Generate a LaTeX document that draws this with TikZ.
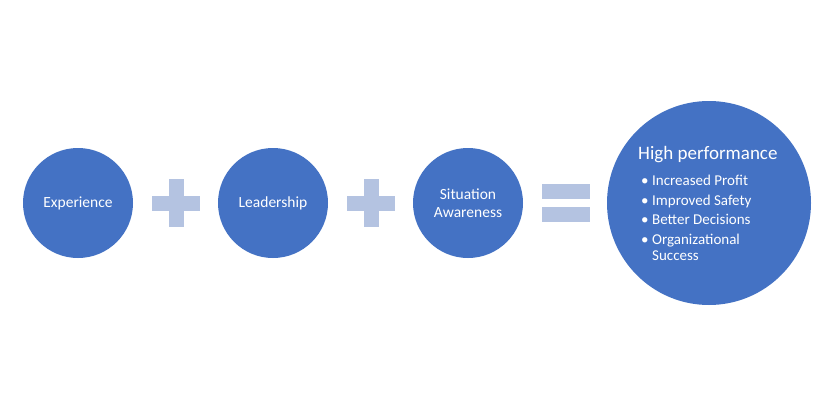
\documentclass[tikz,border=0pt]{standalone}
\usepackage{fontspec}
\setmainfont{Carlito}
\definecolor{circblue}{HTML}{4472C4}
\definecolor{oplight}{HTML}{B4C3E1}
\begin{document}
\begin{tikzpicture}[x=1pt,y=-1pt,
  bubble/.style={circle,fill=circblue,inner sep=0pt,minimum size=110pt,text=white,font=\fontsize{15.5}{17.5}\selectfont,align=center},
  bigbubble/.style={circle,fill=circblue,inner sep=0pt,minimum size=204pt},
  opbar/.style={fill=oplight}]
\useasboundingbox (0,0) rectangle (814,407);
\fill[white] (0,0) rectangle (814,407);
\node[bubble] (exp) at (78,203) {Experience};
\node[bubble] (lead) at (273,203) {Leadership};
\node[bubble] (sa) at (468,203) {Situation\\Awareness};
\node[bigbubble] (hp) at (709,203) {};
% plus signs
\fill[opbar] (152,196) rectangle (200,211);
\fill[opbar] (168.5,179) rectangle (183.5,227);
\fill[opbar] (347,196) rectangle (395,211);
\fill[opbar] (363.5,179) rectangle (378.5,227);
% equals
\fill[opbar] (542,184) rectangle (590,199);
\fill[opbar] (542,207) rectangle (590,222);
% text in big circle
\node[anchor=west,inner sep=0pt,text=white,font=\fontsize{19}{21}\selectfont] (title) at (638,155) {High performance};
\node[anchor=west,inner sep=0pt,text=white,font=\fontsize{15}{16.5}\selectfont] (list) at (641,220)
 {\begin{tabular}{@{}l@{\hspace{3.5pt}}l@{}}
 \textbullet & Increased Profit\\[3pt]
 \textbullet & Improved Safety\\[3pt]
 \textbullet & Better Decisions\\[3pt]
 \textbullet & Organizational\\
  & Success
 \end{tabular}};
\end{tikzpicture}
\end{document}
